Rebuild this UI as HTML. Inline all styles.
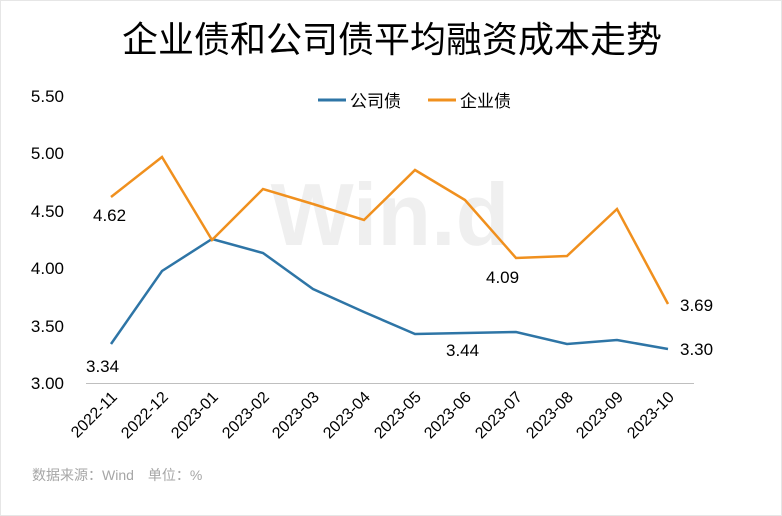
<!DOCTYPE html>
<html><head><meta charset="utf-8"><style>
html,body{margin:0;padding:0;background:#fff;}
svg{display:block;font-family:"Liberation Sans","Noto Sans CJK SC",sans-serif;}
</style></head><body>
<svg width="782" height="516" viewBox="0 0 782 516">
<rect x="0.5" y="0.5" width="781" height="515" fill="#fff" stroke="#e6e6e6"/>
<text x="392" y="52" font-size="36" text-anchor="middle" fill="#000">企业债和公司债平均融资成本走势</text>
<text x="390" y="245" font-size="88" font-weight="bold" text-anchor="middle" fill="#efefef">Win.d</text>
<g font-size="17" fill="#000" text-anchor="end">
<text x="64" y="389">3.00</text><text x="64" y="332">3.50</text><text x="64" y="274">4.00</text>
<text x="64" y="217">4.50</text><text x="64" y="159">5.00</text><text x="64" y="102">5.50</text>
</g>
<line x1="86" y1="383.5" x2="694" y2="383.5" stroke="#bfbfbf"/>
<line x1="318" y1="100" x2="346" y2="100" stroke="#2e75a6" stroke-width="3"/>
<text x="350" y="107" font-size="17">公司债</text>
<line x1="428" y1="100" x2="456" y2="100" stroke="#f0901e" stroke-width="3"/>
<text x="460" y="107" font-size="17">企业债</text>
<polyline fill="none" stroke="#2e75a6" stroke-width="2.5" points="111,344 162,271 212,239 263,253 313,289 364,312 415,334 465,333 516,332 567,344 617,340 668,349"/>
<polyline fill="none" stroke="#f0901e" stroke-width="2.5" points="111,197 162,157 212,240 263,189 313,204 364,220 415,170 465,200 516,258 567,256 617,209 668,304"/>
<g font-size="17" fill="#000">
<text x="93" y="221">4.62</text><text x="86" y="372">3.34</text>
<text x="486" y="283">4.09</text><text x="446" y="356">3.44</text>
<text x="680" y="311">3.69</text><text x="680" y="355">3.30</text>
</g>
<g font-size="16" fill="#000" text-anchor="end">
<text transform="translate(118,398) rotate(-45)">2022-11</text>
<text transform="translate(169,398) rotate(-45)">2022-12</text>
<text transform="translate(219,398) rotate(-45)">2023-01</text>
<text transform="translate(270,398) rotate(-45)">2023-02</text>
<text transform="translate(320,398) rotate(-45)">2023-03</text>
<text transform="translate(371,398) rotate(-45)">2023-04</text>
<text transform="translate(422,398) rotate(-45)">2023-05</text>
<text transform="translate(472,398) rotate(-45)">2023-06</text>
<text transform="translate(523,398) rotate(-45)">2023-07</text>
<text transform="translate(574,398) rotate(-45)">2023-08</text>
<text transform="translate(624,398) rotate(-45)">2023-09</text>
<text transform="translate(675,398) rotate(-45)">2023-10</text>
</g>
<text x="32" y="480" font-size="14" fill="#a6a6a6">数据来源：Wind　单位：%</text>
</svg>
</body></html>
